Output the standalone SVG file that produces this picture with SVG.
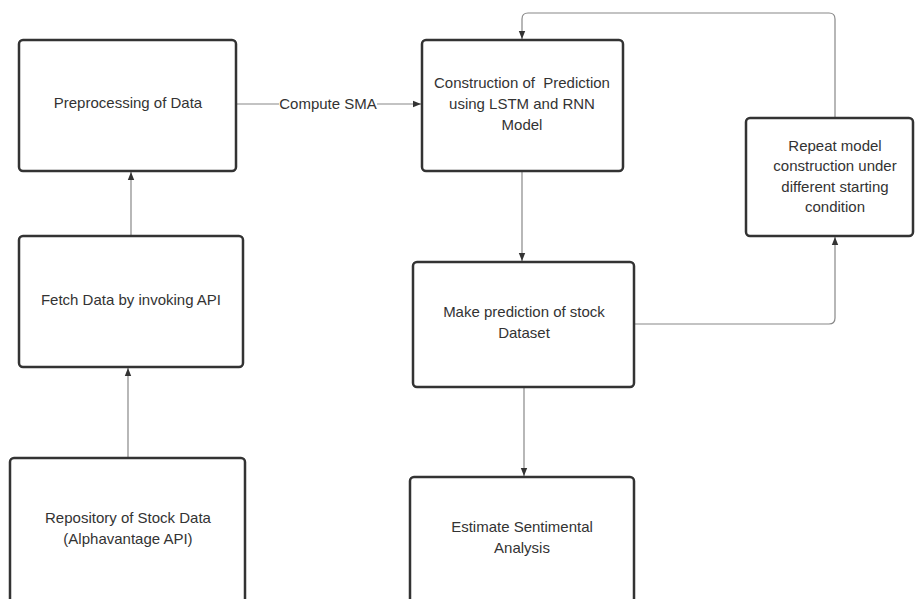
<svg xmlns="http://www.w3.org/2000/svg" width="915" height="599" viewBox="0 0 915 599">
<defs>
<marker id="ah" viewBox="0 0 10 10" refX="10" refY="5" markerWidth="8" markerHeight="8" markerUnits="userSpaceOnUse" orient="auto">
<path d="M0,1 L10,5 L0,9 Z" fill="#333"/>
</marker>
<style>
.box{fill:#fff;stroke:#333;stroke-width:2.5}
.t{font-family:"Liberation Sans",Arial,sans-serif;font-size:15px;fill:#333;text-anchor:middle}
.c{fill:none;stroke:#888;stroke-width:1.2}
</style>
</defs>
<rect width="915" height="599" fill="#fff"/>
<g id="connectors">
<path class="c" d="M236,104 H421" marker-end="url(#ah)"/>
<rect x="279" y="94" width="98" height="20" fill="#fff"/>
<text class="t" x="328" y="109">Compute SMA</text>
<path class="c" d="M131,236 V172" marker-end="url(#ah)"/>
<path class="c" d="M128,458 V368" marker-end="url(#ah)"/>
<path class="c" d="M522,171 V261" marker-end="url(#ah)"/>
<path class="c" d="M524,387 V476" marker-end="url(#ah)"/>
<path class="c" d="M634,324 H829 Q835,324 835,318 V237" marker-end="url(#ah)"/>
<path class="c" d="M835,118 V19 Q835,13 829,13 H528 Q522,13 522,19 V39" marker-end="url(#ah)"/>
</g>
<g id="preprocessing">
<rect class="box" x="19" y="40" width="217" height="131" rx="4"/>
<text class="t" x="128" y="108">Preprocessing of Data</text>
</g>
<g id="construction">
<rect class="box" x="422" y="40" width="201" height="131" rx="4"/>
<text class="t" x="522" y="88" xml:space="preserve">Construction of  Prediction</text>
<text class="t" x="522" y="109">using LSTM and RNN</text>
<text class="t" x="522" y="130">Model</text>
</g>
<g id="repeat">
<rect class="box" x="746" y="118" width="167" height="118" rx="4"/>
<text class="t" x="835" y="151">Repeat model</text>
<text class="t" x="835" y="171">construction under</text>
<text class="t" x="835" y="192">different starting</text>
<text class="t" x="835" y="212">condition</text>
</g>
<g id="fetch">
<rect class="box" x="19" y="236" width="224" height="131" rx="4"/>
<text class="t" x="131" y="305">Fetch Data by invoking API</text>
</g>
<g id="make">
<rect class="box" x="413" y="262" width="221" height="125" rx="4"/>
<text class="t" x="524" y="317">Make prediction of stock</text>
<text class="t" x="524" y="338">Dataset</text>
</g>
<g id="estimate">
<rect class="box" x="410" y="477" width="224" height="130" rx="4"/>
<text class="t" x="522" y="532">Estimate Sentimental</text>
<text class="t" x="522" y="553">Analysis</text>
</g>
<g id="repository">
<rect class="box" x="10" y="458" width="235" height="150" rx="4"/>
<text class="t" x="128" y="523">Repository of Stock Data</text>
<text class="t" x="128" y="544">(Alphavantage API)</text>
</g>
</svg>
